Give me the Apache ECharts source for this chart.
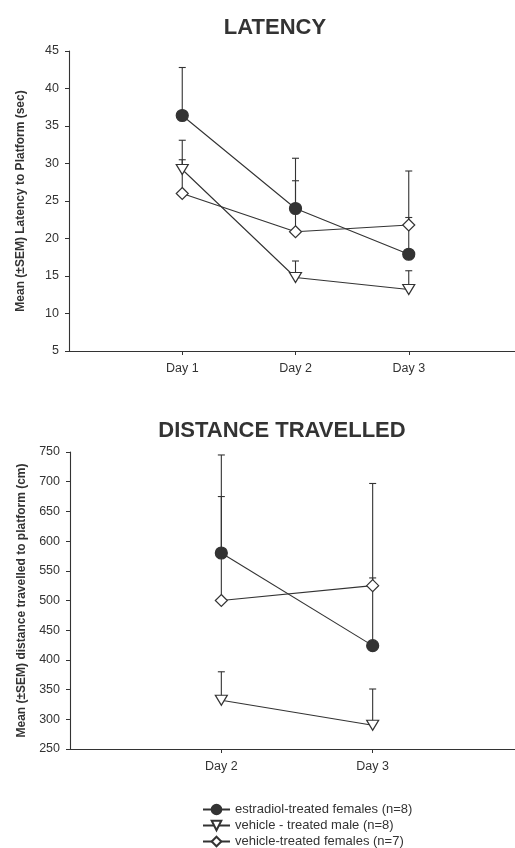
<!DOCTYPE html>
<html>
<head>
<meta charset="utf-8">
<script src="https://cdn.jsdelivr.net/npm/echarts@6/dist/echarts.min.js"></script>
<style>
    html, body { margin: 0; padding: 0; background: #fff; }
    #chart { width: 515px; height: 848px; }
</style>
</head>
<body>
<div id="chart"></div>
<script>
    // 数据
    let latencyDays = ['Day 1', 'Day 2', 'Day 3']
    let latencyTicks = [5, 10, 15, 20, 25, 30, 35, 40, 45]
    let latEstradiol = [36.4, 24.0, 17.9]
    let latEstradiolSem = [6.4, 6.7, 11.1]
    let latMale = [29.2, 14.8, 13.2]
    let latMaleSem = [3.9, 2.2, 2.5]
    let latVehFemale = [26.0, 20.9, 21.8]
    let latVehFemaleSem = [4.5, 6.8, 1.0]

    let distDays = ['Day 2', 'Day 3']
    let distTicks = [250, 300, 350, 400, 450, 500, 550, 600, 650, 700, 750]
    let distEstradiol = [580, 424]
    let distEstradiolSem = [165, 273]
    let distMale = [332, 290]
    let distMaleSem = [48, 61]
    let distVehFemale = [500, 525]
    let distVehFemaleSem = [175, 13]

    let groupNames = ['estradiol-treated females (n=8)', 'vehicle - treated male (n=8)', 'vehicle-treated females (n=7)']

    let ink = '#333'
    let font = 'Liberation Sans, Arial, sans-serif'

    // 两端留空类目
    function padded(days) {
        return [''].concat(days, [''])
    }
    function points(vals) {
        return vals.map((v, i) => [i + 1, v])
    }
    function errPoints(vals, sem) {
        return vals.map((v, i) => [i + 1, v, sem[i]])
    }

    let marks = [
        { symbol: 'circle', symbolSize: 12, symbolRotate: 0, fill: '#333' },
        { symbol: 'triangle', symbolSize: [12, 10], symbolRotate: 180, fill: '#fff' },
        { symbol: 'diamond', symbolSize: [12, 12], symbolRotate: 0, fill: '#fff' }
    ]

    function lineSeries(k, vals, axis) {
        return {
            name: groupNames[k],
            type: 'line',
            xAxisIndex: axis,
            yAxisIndex: axis,
            data: points(vals),
            symbol: marks[k].symbol,
            symbolSize: marks[k].symbolSize,
            symbolRotate: marks[k].symbolRotate,
            lineStyle: { color: ink, width: 1.1 },
            itemStyle: { color: marks[k].fill, borderColor: ink, borderWidth: 1.2 },
            z: 5,
            animation: false
        }
    }

    // 误差线 只画上半
    function errSeries(vals, sem, axis) {
        return {
            type: 'custom',
            xAxisIndex: axis,
            yAxisIndex: axis,
            data: errPoints(vals, sem),
            z: 2,
            silent: true,
            animation: false,
            renderItem: function (params, api) {
                let x = api.value(0)
                let y = api.value(1)
                let e = api.value(2)
                let p0 = api.coord([x, y])
                let p1 = api.coord([x, y + e])
                let style = { stroke: ink, lineWidth: 1.1 }
                return {
                    type: 'group',
                    children: [
                        { type: 'line', shape: { x1: p0[0], y1: p0[1], x2: p1[0], y2: p1[1] }, style: style },
                        { type: 'line', shape: { x1: p1[0] - 3.5, y1: p1[1], x2: p1[0] + 3.5, y2: p1[1] }, style: style }
                    ]
                }
            }
        }
    }

    function xAxisCfg(days, grid) {
        let cats = padded(days)
        return {
            type: 'category',
            gridIndex: grid,
            data: cats,
            boundaryGap: false,
            axisLine: { lineStyle: { color: ink, width: 1.1 } },
            axisTick: {
                length: 4,
                interval: function (idx, val) { return val !== '' },
                lineStyle: { color: ink }
            },
            axisLabel: { color: '#333', fontSize: 12.5, fontFamily: font, margin: 11, interval: 0 },
            splitLine: { show: false }
        }
    }

    function yAxisCfg(ticks, step, name, grid) {
        return {
            type: 'value',
            gridIndex: grid,
            min: ticks[0],
            max: ticks[ticks.length - 1],
            interval: step,
            name: name,
            nameLocation: 'middle',
            nameGap: 42,
            nameTextStyle: { color: '#333', fontSize: 12, fontWeight: 'bold', fontFamily: font },
            axisLine: { show: true, lineStyle: { color: ink, width: 1.1 } },
            axisTick: { show: true, length: 4, lineStyle: { color: ink } },
            axisLabel: { color: '#333', fontSize: 12.5, fontFamily: font, margin: 10 },
            splitLine: { show: false }
        }
    }

    let mychart = echarts.init(document.getElementById('chart'))
    let option = {
        backgroundColor: '#fff',
        animation: false,
        title: [
            { text: 'LATENCY', left: 270, top: 12, textAlign: 'center',
              textStyle: { color: '#333', fontSize: 22, fontWeight: 'bold', fontFamily: font } },
            { text: 'DISTANCE TRAVELLED', left: 277, top: 415, textAlign: 'center',
              textStyle: { color: '#333', fontSize: 22, fontWeight: 'bold', fontFamily: font } }
        ],
        legend: {
            data: groupNames,
            orient: 'vertical',
            left: 197,
            top: 798,
            height: 80,
            itemWidth: 27,
            itemHeight: 12,
            itemGap: 3,
            textStyle: { color: '#333', fontSize: 13, fontFamily: font }
        },
        grid: [
            { left: 69, top: 51, width: 453, height: 300, outerBoundsMode: 'none' },
            { left: 70, top: 452, width: 454, height: 297, outerBoundsMode: 'none' }
        ],
        xAxis: [
            xAxisCfg(latencyDays, 0),
            xAxisCfg(distDays, 1)
        ],
        yAxis: [
            yAxisCfg(latencyTicks, 5, 'Mean (\u00b1SEM) Latency to Platform (sec)', 0),
            yAxisCfg(distTicks, 50, 'Mean (\u00b1SEM) distance travelled to platform (cm)', 1)
        ],
        series: [
            lineSeries(0, latEstradiol, 0),
            lineSeries(1, latMale, 0),
            lineSeries(2, latVehFemale, 0),
            errSeries(latEstradiol, latEstradiolSem, 0),
            errSeries(latMale, latMaleSem, 0),
            errSeries(latVehFemale, latVehFemaleSem, 0),
            lineSeries(0, distEstradiol, 1),
            lineSeries(1, distMale, 1),
            lineSeries(2, distVehFemale, 1),
            errSeries(distEstradiol, distEstradiolSem, 1),
            errSeries(distMale, distMaleSem, 1),
            errSeries(distVehFemale, distVehFemaleSem, 1)
        ]
    }
    mychart.setOption(option)
</script>
</body>
</html>
